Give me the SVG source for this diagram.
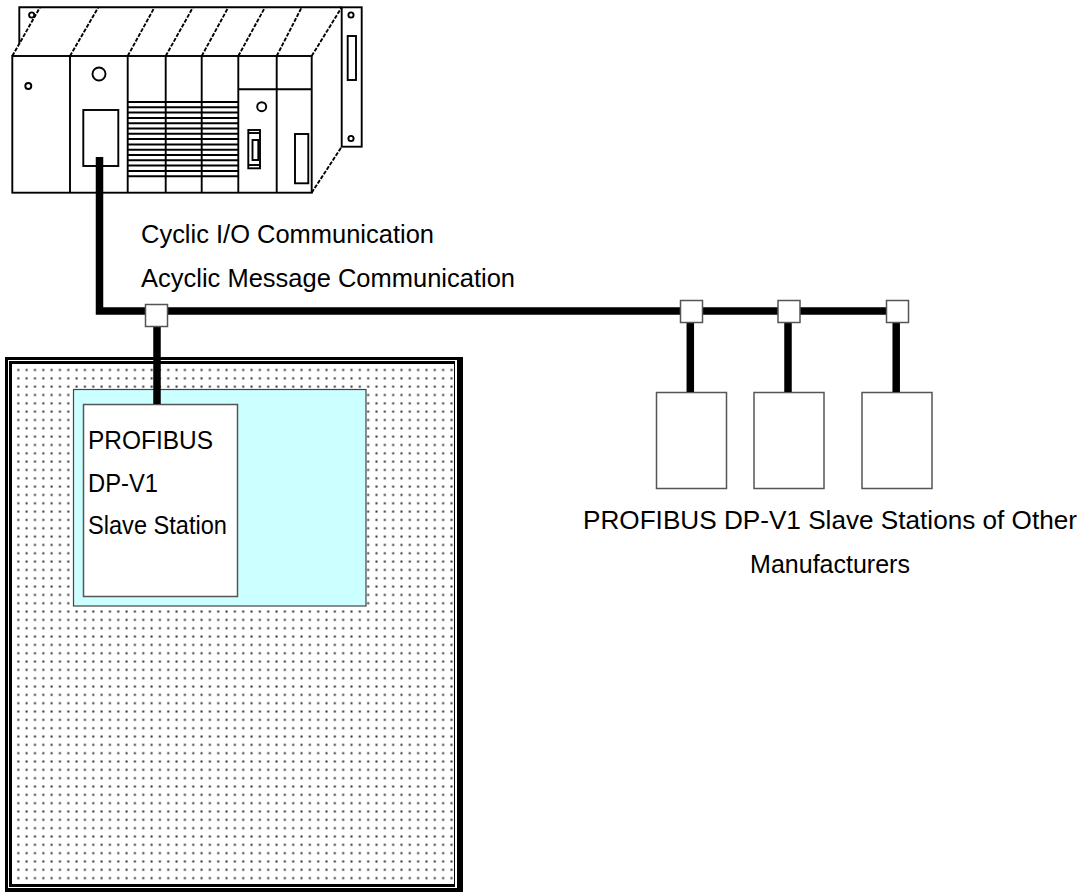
<svg xmlns="http://www.w3.org/2000/svg" width="1085" height="892" viewBox="0 0 1085 892">
  <style>
    .ln { fill: none; stroke: #000; stroke-width: 1.9; }
    .bus { fill: none; stroke: #000; stroke-width: 7.5; }
    .tap { fill: #fff; stroke: #555; stroke-width: 1.5; }
    .box { fill: #fff; stroke: #555; stroke-width: 1.5; }
    .grill { stroke: #000; stroke-width: 2; }
    .lbl { font-family: "Liberation Sans", Arial, sans-serif; font-size: 25px; fill: #000; }
  </style>
  <defs>
    <pattern id="dots" x="14.1" y="365.8" width="8.33" height="8.33" patternUnits="userSpaceOnUse">
      <rect x="3.2" y="3.2" width="2" height="2" fill="#333"/>
    </pattern>
  </defs>
  <rect width="1085" height="892" fill="#fff"/>

  <!-- PLC rack (master) -->
  <g id="plc">
    <!-- back top edge and rack outline -->
    <polyline class="ln" points="19.3,43.7 19.3,7.3 341.7,7.3"/>
    <!-- right end plate -->
    <rect class="ln" x="341.7" y="7.3" width="20" height="139.4" fill="#fff"/>
    <rect class="ln" x="347.7" y="36" width="8.3" height="44"/>
    <circle class="ln" cx="351" cy="15" r="2.6"/>
    <circle class="ln" cx="351" cy="138.5" r="2.6"/>
    <!-- side face -->
    <line class="ln" x1="311.7" y1="192.7" x2="341.7" y2="146.7" stroke-dasharray="4 1.5"/>
    <!-- slanted module tops -->
    <g stroke-dasharray="4 1.5">
      <line class="ln" x1="12.3" y1="56" x2="40" y2="7.3"/>
      <line class="ln" x1="70" y1="56" x2="98.3" y2="7.3"/>
      <line class="ln" x1="127.7" y1="56" x2="154.5" y2="7.3"/>
      <line class="ln" x1="165.7" y1="56" x2="193" y2="7.3"/>
      <line class="ln" x1="201.7" y1="56" x2="228.3" y2="7.3"/>
      <line class="ln" x1="238.3" y1="56" x2="265" y2="7.3"/>
      <line class="ln" x1="276.7" y1="56" x2="301.7" y2="7.3"/>
      <line class="ln" x1="311.7" y1="56" x2="341.7" y2="7.3"/>
    </g>
    <circle class="ln" cx="31.7" cy="15" r="2.6"/>
    <!-- front face -->
    <rect class="ln" x="12.3" y="56" width="299.4" height="136.7"/>
    <line class="ln" x1="70" y1="56" x2="70" y2="192.7"/>
    <line class="ln" x1="127.7" y1="56" x2="127.7" y2="192.7"/>
    <line class="ln" x1="165.7" y1="56" x2="165.7" y2="192.7"/>
    <line class="ln" x1="201.7" y1="56" x2="201.7" y2="192.7"/>
    <line class="ln" x1="238.3" y1="56" x2="238.3" y2="192.7"/>
    <line class="ln" x1="276.7" y1="56" x2="276.7" y2="192.7"/>
    <line class="ln" x1="238.3" y1="89.3" x2="311.7" y2="89.3"/>
    <!-- power supply -->
    <circle class="ln" cx="28.3" cy="86" r="3"/>
    <!-- CPU / master module -->
    <circle class="ln" cx="99" cy="74" r="6.5"/>
    <rect class="ln" x="83.3" y="110" width="35" height="56"/>
    <!-- I/O grill -->
    <g class="grill">
      <line x1="127.7" y1="102" x2="238.3" y2="102"/>
      <line x1="127.7" y1="107.3" x2="238.3" y2="107.3"/>
      <line x1="127.7" y1="112.6" x2="238.3" y2="112.6"/>
      <line x1="127.7" y1="117.9" x2="238.3" y2="117.9"/>
      <line x1="127.7" y1="123.2" x2="238.3" y2="123.2"/>
      <line x1="127.7" y1="128.5" x2="238.3" y2="128.5"/>
      <line x1="127.7" y1="133.8" x2="238.3" y2="133.8"/>
      <line x1="127.7" y1="139.1" x2="238.3" y2="139.1"/>
      <line x1="127.7" y1="144.4" x2="238.3" y2="144.4"/>
      <line x1="127.7" y1="149.7" x2="238.3" y2="149.7"/>
      <line x1="127.7" y1="155" x2="238.3" y2="155"/>
      <line x1="127.7" y1="160.3" x2="238.3" y2="160.3"/>
      <line x1="127.7" y1="165.6" x2="238.3" y2="165.6"/>
      <line x1="127.7" y1="170.9" x2="238.3" y2="170.9"/>
      <line x1="127.7" y1="176.2" x2="238.3" y2="176.2"/>
    </g>
    <!-- communication module details -->
    <circle class="ln" cx="261.7" cy="106.7" r="4.5"/>
    <rect class="ln" x="248.3" y="130" width="11.7" height="38.3"/>
    <rect class="ln" x="252.5" y="140" width="5.8" height="20"/>
    <line class="ln" x1="248.3" y1="133" x2="260" y2="133"/>
    <line class="ln" x1="248.3" y1="165" x2="260" y2="165"/>
    <rect class="ln" x="295" y="134" width="13.3" height="49.3"/>
  </g>

  <!-- host device enclosure with slave interface -->
  <g id="device">
    <rect x="5" y="357" width="458" height="535" fill="#000"/>
    <rect x="8" y="360" width="449" height="528" fill="#fff"/>
    <rect x="9" y="361" width="446" height="526" fill="#000"/>
    <rect x="12" y="364" width="442" height="520" fill="#fff"/>
    <rect x="12" y="364" width="442" height="520" fill="url(#dots)"/>
    <rect x="73.5" y="389.5" width="292.5" height="216.5" fill="#ccffff" stroke="#444" stroke-width="1.2"/>
  </g>

  <g id="slave-station">
    <rect class="box" x="83.5" y="404.5" width="154" height="192" stroke="#333" stroke-width="1.2"/>
    <text class="lbl" x="88" y="449" textLength="125" lengthAdjust="spacingAndGlyphs">PROFIBUS</text>
    <text class="lbl" x="88" y="492" textLength="70" lengthAdjust="spacingAndGlyphs">DP-V1</text>
    <text class="lbl" x="88" y="534" textLength="139" lengthAdjust="spacingAndGlyphs">Slave Station</text>
  </g>

  <!-- other manufacturers' slaves -->
  <g id="slave-1"><rect class="box" x="656.5" y="392.5" width="70" height="96"/></g>
  <g id="slave-2"><rect class="box" x="754" y="392.5" width="70" height="96"/></g>
  <g id="slave-3"><rect class="box" x="862" y="392.5" width="70" height="96"/></g>

  <!-- PROFIBUS cable and taps -->
  <g id="connectors">
    <polyline class="bus" points="99.5,157 99.5,311 897,311"/>
    <line class="bus" x1="157" y1="320" x2="157" y2="404"/>
    <line class="bus" x1="690.3" y1="315" x2="690.3" y2="392"/>
    <line class="bus" x1="788" y1="315" x2="788" y2="392"/>
    <line class="bus" x1="896.2" y1="315" x2="896.2" y2="392"/>
    <rect class="tap" x="145.5" y="304.5" width="22" height="22"/>
    <rect class="tap" x="680.5" y="300.5" width="22" height="22"/>
    <rect class="tap" x="778" y="300.5" width="22" height="22"/>
    <rect class="tap" x="886.5" y="300.5" width="22" height="22"/>
  </g>

  <g id="labels">
    <text class="lbl" x="141" y="243" textLength="293" lengthAdjust="spacingAndGlyphs">Cyclic I/O Communication</text>
    <text class="lbl" x="141" y="287" textLength="374" lengthAdjust="spacingAndGlyphs">Acyclic Message Communication</text>
    <text class="lbl" x="583" y="529" textLength="494" lengthAdjust="spacingAndGlyphs">PROFIBUS DP-V1 Slave Stations of Other</text>
    <text class="lbl" x="830" y="573" text-anchor="middle">Manufacturers</text>
  </g>
</svg>
